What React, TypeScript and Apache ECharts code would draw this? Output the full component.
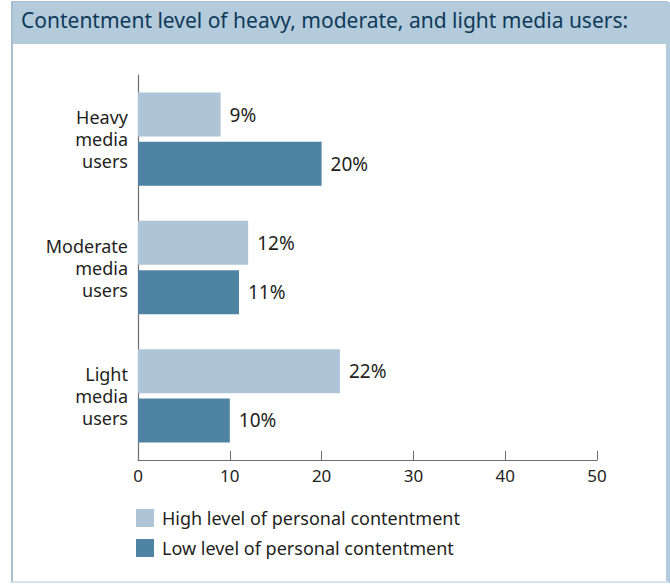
import React, { useEffect, useRef } from "react";
import * as echarts from "echarts";

const categories = ["Heavy\nmedia\nusers", "Moderate\nmedia\nusers", "Light\nmedia\nusers"];
const seriesNames = ["High level of personal contentment", "Low level of personal contentment"];
const highValues = [9, 12, 22];
const lowValues = [20, 11, 10];
const titleText = "Contentment level of heavy, moderate, and light media users:";

const FONT = "'Noto Sans', sans-serif";
const TEXT = "#231f20";

export default function App() {
  const ref = useRef<HTMLDivElement>(null);
  useEffect(() => {
    document.body.style.margin = "0";
    const chart = echarts.init(ref.current!, null, { renderer: "svg" });
    chart.setOption({
      animation: false,
      backgroundColor: "#ffffff",
      textStyle: { fontFamily: FONT },
      graphic: [
        { type: "rect", shape: { x: 12, y: 2, width: 655, height: 580 }, style: { fill: "#fff", stroke: "#8aaac0", lineWidth: 1.5 }, z: -10 },
        { type: "rect", shape: { x: 666, y: 2, width: 4, height: 581 }, style: { fill: "#b3cbdc" }, z: -9 },
        { type: "rect", shape: { x: 12, y: 581, width: 656, height: 2 }, style: { fill: "#d6e3ec" }, z: -9 },
        { type: "rect", shape: { x: 13, y: 2, width: 653, height: 42 }, style: { fill: "#b4cbdb" }, z: -8 },
      ],
      title: {
        text: titleText,
        left: 21,
        top: 9,
        padding: 0,
        textStyle: { fontFamily: FONT, fontSize: 21, fontWeight: "normal", color: "#0f3a5a" },
      },
      grid: { left: 138, top: 75, width: 459, height: 385, containLabel: false },
      xAxis: {
        type: "value",
        min: 0,
        max: 50,
        interval: 10,
        axisLine: { show: true, lineStyle: { color: "#6d6e71", width: 1.2 } },
        axisTick: { show: true, inside: true, length: 9, lineStyle: { color: "#6d6e71" } },
        splitLine: { show: false },
        axisLabel: { fontFamily: FONT, fontSize: 17, color: TEXT, margin: 7 },
      },
      yAxis: {
        type: "category",
        inverse: true,
        data: categories,
        axisLine: { show: true, lineStyle: { color: "#6d6e71", width: 1.2 } },
        axisTick: { show: false },
        axisLabel: { fontFamily: FONT, fontSize: 18, lineHeight: 22, color: TEXT, align: "right", margin: 10 },
      },
      legend: {
        orient: "vertical",
        left: 136,
        top: 509,
        padding: 0,
        itemWidth: 18,
        itemHeight: 18,
        itemGap: 12,
        icon: "rect",
        textStyle: { fontFamily: FONT, fontSize: 18, color: TEXT, padding: [0, 0, 0, 3] },
        data: seriesNames,
      },
      series: [
        {
          name: seriesNames[0],
          type: "bar",
          data: highValues,
          barWidth: 44,
          barGap: "12%",
          itemStyle: { color: "#aec4d7" },
          label: { show: true, position: "right", distance: 9, formatter: "{c}%", fontFamily: FONT, fontSize: 19, color: TEXT },
        },
        {
          name: seriesNames[1],
          type: "bar",
          data: lowValues,
          barWidth: 44,
          barGap: "12%",
          itemStyle: { color: "#4e83a3" },
          label: { show: true, position: "right", distance: 9, formatter: "{c}%", fontFamily: FONT, fontSize: 19, color: TEXT },
        },
      ],
    });
    return () => chart.dispose();
  }, []);
  return <div ref={ref} style={{ width: 670, height: 584, position: "absolute", left: 0, top: 0 }} />;
}
